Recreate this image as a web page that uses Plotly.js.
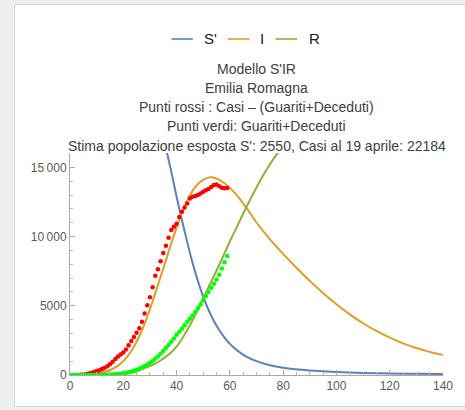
<!DOCTYPE html>
<html>
<head>
<meta charset="utf-8">
<script src="https://cdn.plot.ly/plotly-3.0.1.min.js"></script>
<style>
  html, body { margin:0; padding:0; background:#efefef; width:465px; height:410px; overflow:hidden; }
  #frame { position:absolute; left:14px; top:4px; width:460px; height:401px; background:#ffffff; border:1px solid #d6d6d6; }
  #chart { position:absolute; left:0; top:0; width:465px; height:410px; }
</style>
</head>
<body>
<div id="frame"></div>
<div id="chart"></div>
<script>
// ---- data ----
const seriesNames = ["S'", "I", "R"];

const sT = [0, 10, 20, 26, 30, 33, 35, 36.5, 38, 40, 42, 44, 46, 48, 50, 52, 54, 56, 58, 60, 62, 64, 66, 70, 75, 80, 90, 100, 110, 120, 130, 140];
const sV = [31000, 30700, 29200, 26800, 23300, 19900, 17600, 16000, 14700, 12900, 11200, 9600, 8100, 6800, 5650, 4700, 3900, 3250, 2700, 2250, 1900, 1600, 1350, 1000, 700, 520, 320, 220, 150, 110, 85, 70];

const iT = [0, 4, 8, 10, 12, 14, 16, 18, 20, 22, 24, 26, 28, 30, 32, 34, 36, 38, 40, 42, 44, 46, 48, 50, 52, 53, 54, 56, 58, 60, 62, 64, 66, 68, 70, 75, 80, 85, 90, 95, 100, 105, 110, 115, 120, 125, 130, 135, 140];
const iV = [0, 10, 50, 100, 170, 280, 440, 680, 1000, 1450, 2050, 2800, 3700, 4750, 5900, 7100, 8300, 9500, 10650, 11700, 12600, 13300, 13800, 14100, 14260, 14280, 14250, 14100, 13850, 13520, 13120, 12650, 12130, 11580, 11020, 9820, 8750, 7750, 6800, 5920, 5110, 4380, 3740, 3180, 2700, 2290, 1950, 1670, 1445];

const iEarlyT = [0, 3, 6, 9, 12, 15.5];
const iEarlyV = [0, 12, 40, 100, 200, 340];

const rT = [0, 10, 16, 20, 24, 26, 28, 30, 32, 34, 36, 38, 40, 42, 44, 46, 48, 50, 52, 54, 56, 58, 60, 62, 64, 66, 68, 70, 72, 74, 76, 78, 80, 82];
const rV = [0, 0, 10, 60, 220, 360, 500, 650, 820, 1050, 1330, 1650, 2050, 2600, 3250, 3950, 4750, 5550, 6350, 7150, 7950, 8800, 9650, 10450, 11250, 12050, 12800, 13550, 14250, 14900, 15500, 16050, 16600, 17100];

const dayT = Array.from({length: 60}, (_, k) => k);
const redV = [0, 0, 0, 0, 18, 30, 60, 100, 150, 210, 280, 350, 430, 530, 640, 780, 960, 1150, 1330, 1480, 1620, 1850, 2150, 2450, 2750, 3050, 3370, 3850, 4450, 5040, 5610, 6340, 7170, 7640, 8210, 8810, 9340, 9920, 10470, 10710, 10930, 11410, 11800, 12110, 12400, 12760, 12880, 12930, 13000, 13120, 13240, 13340, 13440, 13580, 13730, 13770, 13630, 13530, 13490, 13510];
const greenV = [0, 0, 0, 0, 0, 0, 0, 0, 0, 0, 2, 5, 8, 12, 20, 30, 40, 55, 70, 95, 125, 160, 200, 250, 310, 380, 460, 550, 650, 760, 880, 1020, 1170, 1340, 1530, 1740, 1950, 2170, 2400, 2640, 2900, 3130, 3350, 3600, 3850, 4070, 4300, 4550, 4820, 5100, 5400, 5700, 6000, 6300, 6600, 6900, 7250, 7700, 8150, 8600];

const xTicks = [0, 20, 40, 60, 80, 100, 120, 140];
const yTickVals = [0, 5000, 10000, 15000];
const yTickText = ["0", "5000", "10\u2009000", "15\u2009000"];

const titleLines = [
  "Modello S'IR",
  "Emilia Romagna",
  "Punti rossi : Casi \u2013 (Guariti+Deceduti)",
  "Punti verdi: Guariti+Deceduti",
  "Stima popolazione esposta S': 2550, Casi al 19 aprile: 22184"
];

// ---- styles ----
const cBlue = '#5E81B5', cOrange = '#E19C24', cGreen = '#8FB032';
const lineColors = [cBlue, cOrange, cGreen];
const font = 'Liberation Sans, Arial, sans-serif';
const curveLine = c => ({color: c, width: 2, shape: 'spline', smoothing: 0.6});

const traces = [
  {x: sT, y: sV, mode: 'lines', line: curveLine(cBlue), showlegend: false, hoverinfo: 'skip'},
  {x: iT, y: iV, mode: 'lines', line: curveLine(cOrange), showlegend: false, hoverinfo: 'skip'},
  {x: rT, y: rV, mode: 'lines', line: curveLine(cGreen), showlegend: false, hoverinfo: 'skip'},
  {x: iEarlyT, y: iEarlyV, mode: 'lines', line: curveLine(cOrange), showlegend: false, hoverinfo: 'skip'},
  {x: dayT, y: redV, mode: 'markers', marker: {color: '#FF0000', size: 4.5}, showlegend: false, cliponaxis: true},
  {x: dayT, y: greenV, mode: 'markers', marker: {color: '#00FF00', size: 4.5}, showlegend: false, cliponaxis: true}
];

// plot area geometry (px) used to place legend/title in paper units
const L = 70.3, R = 443.5, T = 153, B = 375;
const W = R - L, H = B - T;
const px2x = p => (p - L) / W;
const py2y = p => (B - p) / H;

const shapes = [];
const annotations = [];
const legendLineStart = [171.7, 228.3, 276];
const legendTextStart = [202.3, 258.3, 307.5];
const legendY = py2y(39);
for (let k = 0; k < 3; k++) {
  shapes.push({type: 'line', xref: 'paper', yref: 'paper', x0: px2x(legendLineStart[k]), x1: px2x(legendLineStart[k] + 21.5), y0: legendY, y1: legendY, line: {color: lineColors[k], width: 1.6}});
  annotations.push({xref: 'paper', yref: 'paper', x: px2x(legendTextStart[k]), y: legendY, xanchor: 'left', yanchor: 'middle', text: seriesNames[k], showarrow: false, font: {family: font, size: 15, color: '#1a1a1a'}});
}
const titleYs = [68.7, 88, 107, 126.3, 145.7];
titleLines.forEach((t, k) => {
  annotations.push({xref: 'paper', yref: 'paper', x: 0.5, y: py2y(titleYs[k]), xanchor: 'center', yanchor: 'middle', text: t, showarrow: false, font: {family: font, size: 14, color: '#404040'}});
});

const axisCommon = {
  showgrid: false, zeroline: false, showline: true, linecolor: '#a8a8a8', linewidth: 1,
  ticks: 'inside', ticklen: 5, tickcolor: '#a8a8a8', tickwidth: 1,
  tickfont: {family: font, size: 12, color: '#5a5a5a'}
};

const layout = {
  width: 465, height: 410,
  margin: {l: L, r: 465 - R, t: T, b: 410 - B, pad: 0},
  paper_bgcolor: 'rgba(0,0,0,0)', plot_bgcolor: 'rgba(0,0,0,0)',
  showlegend: false,
  xaxis: Object.assign({}, axisCommon, {range: [0, 140], tickmode: 'array', tickvals: xTicks,
    minor: {tickmode: 'linear', tick0: 0, dtick: 5, ticks: 'inside', ticklen: 3, tickcolor: '#b8b8b8'}}),
  yaxis: Object.assign({}, axisCommon, {range: [0, 16040], tickmode: 'array', tickvals: yTickVals, ticktext: yTickText,
    minor: {tickmode: 'linear', tick0: 0, dtick: 1000, ticks: 'inside', ticklen: 3, tickcolor: '#b8b8b8'}}),
  shapes: shapes,
  annotations: annotations
};

Plotly.newPlot('chart', traces, layout, {staticPlot: true, displayModeBar: false});
</script>
</body>
</html>
